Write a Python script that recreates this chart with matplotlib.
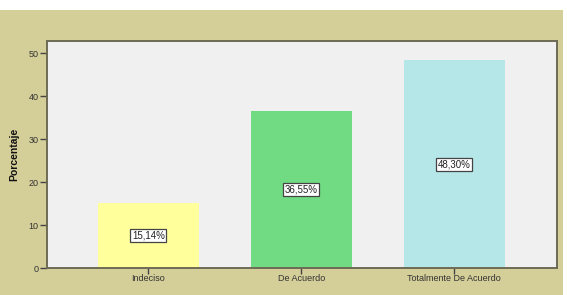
import matplotlib.pyplot as plt
from matplotlib.patches import Rectangle

categorias = ['Indeciso', 'De Acuerdo', 'Totalmente De Acuerdo']
porcentajes = [15.14, 36.55, 48.30]
etiquetas = ['15,14%', '36,55%', '48,30%']
colores = ['#FFFF9C', '#70DB82', '#B5E6E8']
yticks = [0, 10, 20, 30, 40, 50]

plt.rcParams['font.family'] = ['Liberation Sans', 'DejaVu Sans']

fig = plt.figure(figsize=(5.67, 2.95), dpi=100)
fig.patch.set_facecolor('white')
# fondo beige del grafico (franja blanca arriba y a la derecha)
fig.patches.append(Rectangle((0, 0), 563 / 567, 285 / 295, transform=fig.transFigure,
                             facecolor='#D4CE98', edgecolor='none', zorder=-5))

ax = fig.add_axes([47 / 567, 27 / 295, 510 / 567, 227 / 295])
ax.set_facecolor('#F0F0F0')

x = range(len(categorias))
ax.bar(x, porcentajes, width=0.66, color=colores, edgecolor='none', zorder=2)

for i, (v, t) in enumerate(zip(porcentajes, etiquetas)):
    ax.text(i, v / 2, t, ha='center', va='center', fontsize=7, color='#222222', zorder=3,
            bbox=dict(boxstyle='square,pad=0.15', facecolor='white', edgecolor='#444444', linewidth=0.9))

ax.set_xlim(-0.663, 2.673)
ax.set_ylim(0, 52.8)
ax.set_xticks(list(x))
ax.set_xticklabels(categorias)
ax.set_yticks(yticks)

for s in ax.spines.values():
    s.set_color('#6E6B55')
    s.set_linewidth(1.4)

ax.tick_params(axis='both', direction='out', length=5, width=1.0, color='#444444',
               labelsize=6.5, labelcolor='#333333', pad=1)
ax.tick_params(axis='x', length=4, pad=0)
ax.set_ylabel('Porcentaje', fontsize=7.5, fontweight='bold', color='#111111', labelpad=7)

plt.savefig('out.png', dpi=100)
